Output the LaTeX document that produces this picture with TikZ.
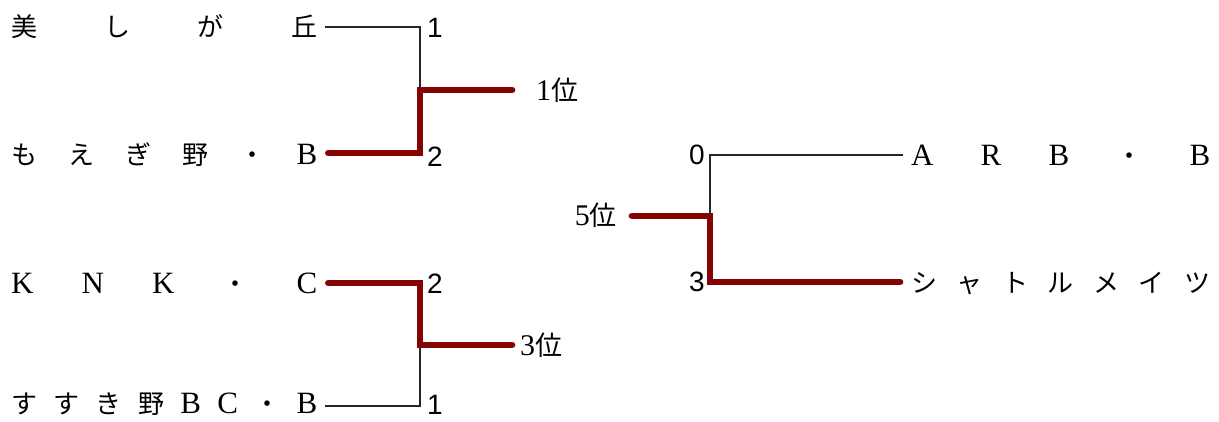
\documentclass[tikz,border=0pt]{standalone}
\usepackage{fontspec}
\newfontfamily\jpfont{Noto Sans CJK JP}
\newfontfamily\serifnum{Liberation Serif}
\newfontfamily\arialnum{Liberation Sans}
\definecolor{win}{RGB}{130,4,4}
\newcommand\lt[1]{{\serifnum\fontsize{31}{31}\selectfont #1}}
\newcommand\rn[1]{{\serifnum\fontsize{30}{30}\selectfont #1}}
\newcommand\spread[2]{\makebox[#1][s]{#2}}
\begin{document}
\begin{tikzpicture}[x=1pt,y=-1pt,
  team/.style={inner sep=0pt, font=\jpfont\fontsize{26}{26}\selectfont},
  score/.style={inner sep=0pt, font=\arialnum\fontsize{28}{28}\selectfont},
  rank/.style={inner sep=0pt, font=\jpfont\fontsize{27}{27}\selectfont},
  thinline/.style={line width=1.2pt, black!85},
  winline/.style={line width=6.8pt, win, line cap=round, line join=miter}]
\useasboundingbox (0,0) rectangle (1219,421);

% left teams
\node[team, anchor=west] (t1) at (11,27)  {\spread{306pt}{美\hfill し\hfill が\hfill 丘}};
\node[team, anchor=west] (t2) at (11,155) {\spread{306pt}{も\hfill え\hfill ぎ\hfill 野\hfill ・\hfill\lt{B}}};
\node[team, anchor=west] (t3) at (11,283) {\spread{306pt}{\lt{K}\hfill\lt{N}\hfill\lt{K}\hfill ・\hfill\lt{C}}};
\node[team, anchor=west] (t4) at (11,404) {\spread{306pt}{す\hfill す\hfill き\hfill 野\hfill\lt{B}\hfill\lt{C}\hfill ・\hfill\lt{B}}};

% right teams
\node[team, anchor=west] (t5) at (911,155) {\spread{299pt}{\lt{A}\hfill\lt{R}\hfill\lt{B}\hfill ・\hfill\lt{B}}};
\node[team, anchor=west] (t6) at (911,283) {\spread{299pt}{シ\hfill ャ\hfill ト\hfill ル\hfill メ\hfill イ\hfill ツ}};

% scores
\node[score, anchor=west] (s1) at (427,28)  {1};
\node[score, anchor=west] (s2) at (427,157) {2};
\node[score, anchor=west] (s3) at (427,284) {2};
\node[score, anchor=west] (s4) at (427,405) {1};
\node[score, anchor=east] (s5) at (705,155) {0};
\node[score, anchor=east] (s6) at (705,282) {3};

% ranks
\node[rank, anchor=west] (r1) at (536,90)  {\rn{1}位};
\node[rank, anchor=west] (r3) at (520,345) {\rn{3}位};
\node[rank, anchor=east] (r5) at (617,215) {\rn{5}位};

% junctions
\coordinate (j1) at (420,27);
\coordinate (j2) at (420,153);
\coordinate (m1) at (420,90);
\coordinate (e1) at (512,90);
\coordinate (j3) at (420,283);
\coordinate (j4) at (420,406);
\coordinate (m2) at (420,345);
\coordinate (e2) at (512,345);
\coordinate (j5) at (710,155);
\coordinate (j6) at (710,282);
\coordinate (m3) at (710,216);
\coordinate (e3) at (632,216);

% top bracket
\draw[thinline] ([xshift=8pt]t1.east) -- (j1) -- (m1);
\draw[winline] ([xshift=11pt]t2.east |- j2) -- (j2) -- (m1) -- (e1);

% bottom bracket
\draw[thinline] ([xshift=8pt]t4.east |- j4) -- (j4) -- (m2);
\draw[winline] ([xshift=11pt]t3.east) -- (j3) -- (m2) -- (e2);

% right bracket
\draw[thinline] ([xshift=-8pt]t5.west) -- (j5) -- (m3);
\draw[winline] ([xshift=-11pt]t6.west |- j6) -- (j6) -- (m3) -- (e3);
\end{tikzpicture}
\end{document}
